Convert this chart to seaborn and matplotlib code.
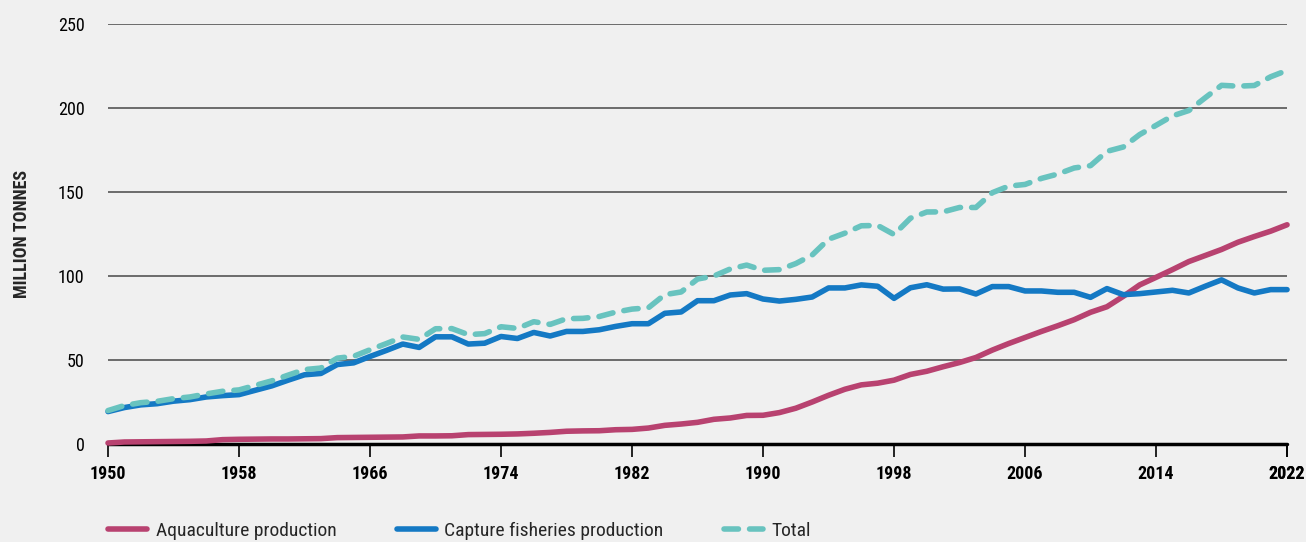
import matplotlib
matplotlib.use("Agg")

import numpy as np
import pandas as pd
import matplotlib.pyplot as plt
import seaborn as sns
from matplotlib import font_manager

years = list(range(1950, 2023))

aquaculture = [
    0.6, 1.2, 1.3, 1.4, 1.5, 1.6, 1.8, 2.6, 2.8, 2.9,
    3.0, 3.0, 3.1, 3.2, 3.8, 3.9, 4.0, 4.1, 4.2, 4.8,
    4.8, 4.9, 5.6, 5.7, 5.8, 6.0, 6.4, 6.9, 7.6, 7.8,
    7.9, 8.5, 8.7, 9.5, 11.1, 11.9, 12.9, 14.7, 15.5, 17.0,
    17.1, 18.7, 21.3, 25.0, 29.0, 32.6, 35.2, 36.2, 38.0, 41.4,
    43.3, 46.0, 48.5, 51.5, 55.9, 59.8, 63.4, 67.0, 70.4, 74.0,
    78.4, 81.7, 87.9, 94.7, 99.2, 103.8, 108.6, 112.2, 115.8, 120.1,
    123.5, 126.7, 130.5,
]

capture = [
    19.3, 21.7, 23.3, 24.0, 25.5, 26.4, 28.0, 28.8, 29.4, 32.0,
    34.6, 38.0, 41.2, 42.0, 47.3, 48.3, 52.1, 55.7, 59.5, 57.5,
    63.8, 63.8, 59.5, 60.0, 64.0, 62.8, 66.4, 64.3, 67.0, 67.0,
    68.0, 70.0, 71.6, 71.6, 77.8, 78.6, 85.3, 85.3, 88.7, 89.5,
    86.3, 85.1, 86.1, 87.5, 92.9, 92.9, 94.7, 93.9, 86.7, 93.0,
    94.8, 92.2, 92.3, 89.3, 93.7, 93.7, 91.1, 91.1, 90.3, 90.3,
    87.3, 92.5, 88.9, 89.5, 90.5, 91.5, 89.9, 93.9, 97.7, 92.9,
    89.9, 91.9, 91.9,
]

total = [
    19.9, 22.9, 24.6, 25.4, 27.0, 28.0, 29.8, 31.4, 32.2, 34.9,
    37.6, 41.0, 44.3, 45.2, 51.1, 52.2, 56.1, 59.8, 63.7, 62.3,
    68.6, 68.7, 65.1, 65.7, 69.8, 68.8, 72.8, 71.2, 74.6, 74.8,
    75.9, 78.5, 80.3, 81.1, 88.9, 90.5, 98.2, 100.0, 104.2, 106.5,
    103.4, 103.8, 107.4, 112.5, 121.9, 125.5, 129.9, 130.1, 124.7, 134.4,
    138.1, 138.2, 140.8, 140.8, 149.6, 153.5, 154.5, 158.1, 160.7, 164.3,
    165.7, 174.2, 176.8, 184.2, 189.7, 195.3, 198.5, 206.1, 213.5, 213.0,
    213.4, 218.6, 222.4,
]

series_names = ["Aquaculture production", "Capture fisheries production", "Total"]
colors = ["#b84270", "#1479c4", "#68c3bf"]
year_ticks = list(range(1950, 2023, 8))
value_ticks = [0, 50, 100, 150, 200, 250]

bg = "#f0f0f0"
sns.set_theme(style="white")

available = {f.name for f in font_manager.fontManager.ttflist}
fams = [f for f in ["Liberation Sans Narrow", "Roboto Condensed", "Roboto", "DejaVu Sans"] if f in available]
plt.rcParams["font.family"] = fams

fig = plt.figure(figsize=(13.06, 5.42), dpi=100, facecolor=bg)
ax = fig.add_axes([0.0827, 0.1808, 0.9028, 0.7749])
ax.set_facecolor(bg)

df = pd.DataFrame({
    "year": years * 3,
    "value": aquaculture + capture + total,
    "series": sum([[n] * len(years) for n in series_names], []),
})

handles = []
for name, col in zip(series_names, colors):
    sub = df[df["series"] == name]
    sns.lineplot(data=sub, x="year", y="value", ax=ax, color=col, lw=4,
                 zorder=4 if name == "Total" else 3, legend=False)
    line = ax.lines[-1]
    line.set_clip_on(False)
    if name == "Total":
        line.set_dashes((2.6, 2.0))
        line.set_dash_capstyle("round")
    else:
        line.set_solid_capstyle("round")
    handles.append(line)

ax.set_xlim(1950, 2022)
ax.set_ylim(0, 250)
ax.set_xticks(year_ticks + [2022])
ax.set_xticklabels([str(y) for y in year_ticks] + ["2022"], fontweight="bold", fontsize=13)
ax.set_yticks(value_ticks)
ax.set_yticklabels([str(v) for v in value_ticks], fontsize=13)

for v in value_ticks[1:]:
    ax.axhline(v, color="#555555", lw=1.2, zorder=1)
ax.axhline(0, color="black", lw=2.5, zorder=2, clip_on=False)

for s in ["top", "right", "left", "bottom"]:
    ax.spines[s].set_visible(False)

ax.tick_params(axis="x", which="both", bottom=True, length=9, width=1.2,
               color="black", pad=6, labelcolor="black")
ax.tick_params(axis="y", left=False, pad=11, labelcolor="black")
ax.set_xlabel("")
ax.set_ylabel("MILLION TONNES", fontweight="bold", fontsize=13, labelpad=19)

fig.legend(handles, series_names, loc="center left",
           bbox_to_anchor=(0.0827, 0.02), ncol=3, frameon=False,
           borderpad=0, borderaxespad=0,
           fontsize=14, handlelength=2.0, columnspacing=3.1, handletextpad=0.45)

fig.savefig("out.png", dpi=100, facecolor=bg)
